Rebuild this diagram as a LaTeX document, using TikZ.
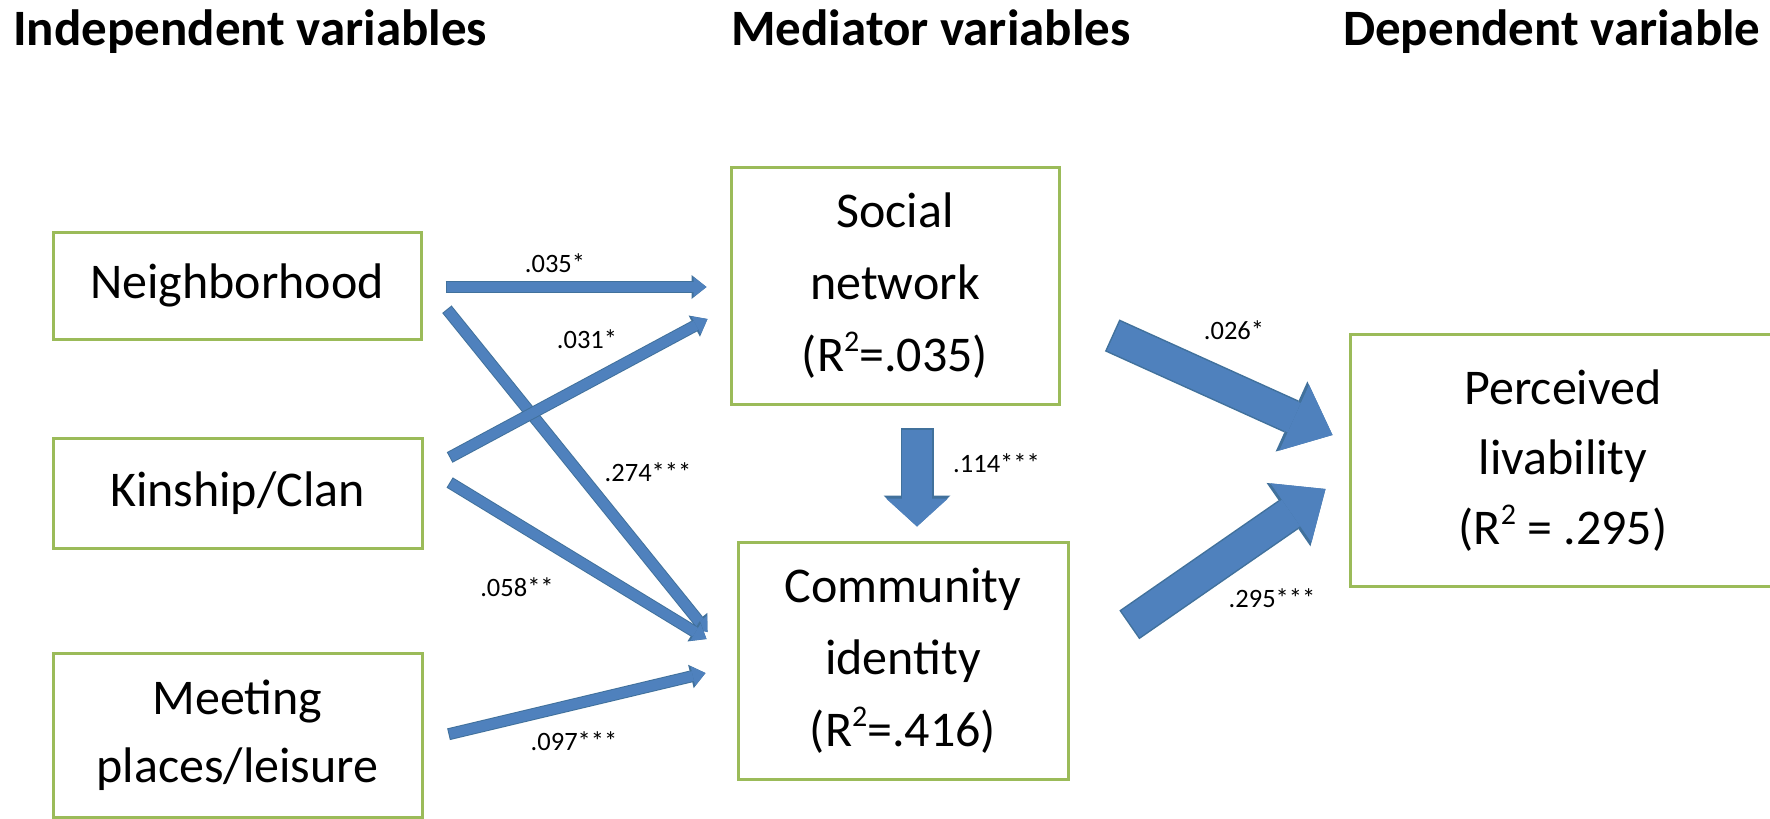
\documentclass[tikz,border=0pt]{standalone}
\usepackage{fontspec}
\setmainfont{Carlito}
\usetikzlibrary{arrows.meta}
\definecolor{boxgreen}{HTML}{9BBB59}
\definecolor{arrfill}{HTML}{4F81BD}
\definecolor{arrline}{HTML}{41719C}
\newcommand{\rsq}{R\raisebox{0.4em}{\fontsize{30}{30}\selectfont 2}}
\begin{document}
\begin{tikzpicture}[x=1pt,y=-1pt,
  vbox/.style={draw=boxgreen, line width=3pt, inner sep=0pt, align=center, font=\fontsize{50}{72}\selectfont},
  boxline/.style={draw=boxgreen, line width=3pt},
  lbl/.style={font=\fontsize{26.5}{30}\selectfont, inner sep=0pt},
  ttl/.style={font=\bfseries\fontsize{51}{60}\selectfont, anchor=base west, inner sep=0pt},
  thinarr/.style={line width=10pt, arrfill, -{Triangle[width=20pt,length=13pt,line width=0pt]},
     preaction={draw=arrline, line width=12pt, -{Triangle[width=24pt,length=15pt,line width=0pt]}, shorten <=-1pt}},
  blockarr/.style={line width=30pt, arrfill, -{Triangle[width=62pt,length=28pt,line width=0pt]},
     preaction={draw=arrline, line width=33pt, -{Triangle[width=67pt,length=31pt,line width=0pt]}, shorten <=-1.5pt}},
  bigarr/.style={line width=32pt, arrfill, -{Triangle[width=72pt,length=42pt,line width=0pt]},
     preaction={draw=arrline, line width=35pt, -{Triangle[width=77pt,length=45pt,line width=0pt]}, shorten <=-1.5pt}},
]
\useasboundingbox (0,0) rectangle (1770,819);

\node[ttl] (t1) at (13,45) {Independent variables};
\node[ttl] (t2) at (731,45) {Mediator variables};
\node[ttl] (t3) at (1343,45) {Dependent variable};

\node[vbox, minimum width=368pt, minimum height=107pt] (nb) at (237,285.5) {Neighborhood};
\node[vbox, minimum width=369pt, minimum height=110pt] (kc) at (237.5,493) {Kinship/Clan};
\node[vbox, minimum width=369pt, minimum height=164pt, font=\fontsize{50}{68}\selectfont] (mp) at (237.5,735) {Meeting\\places/leisure};
\node[vbox, minimum width=328pt, minimum height=237pt] (sn) at (895,285.5) {Social\\network\\(\rsq=.035)};
\node[vbox, minimum width=330pt, minimum height=237pt] (ci) at (903,660.5) {Community\\identity\\(\rsq=.416)};
\node[vbox, draw=none, minimum width=422pt, minimum height=249pt, font=\fontsize{50}{70}\selectfont] (pl) at (1563,460.5) {Perceived\\livability\\(\rsq{} = .295)};
\draw[boxline] ([xshift=60pt]pl.north east) -- (pl.north west) -- (pl.south west) -- ([xshift=60pt]pl.south east);

\node[lbl] (l1) at (555,263) {.035*};
\node[lbl] (l2) at (648,472) {.274***};
\node[lbl] (l3) at (587,339) {.031*};
\node[lbl] (l4) at (517,587) {.058**};
\node[lbl] (l5) at (574,741) {.097***};
\node[lbl, anchor=west] (l6) at (953,463) {.114***};
\node[lbl] (l7) at (1234,330) {.026*};
\node[lbl] (l8) at (1272,598) {.295***};

\draw[thinarr] ([shift={(24,1.5)}]nb.east) -- ([shift={(-23,1.5)}]sn.west);
\draw[thinarr] ([shift={(25,24.5)}]nb.east) -- ([shift={(-29,-28.5)}]ci.west);
\draw[thinarr] ([shift={(27,-36)}]kc.east) -- ([shift={(-22,33.5)}]sn.west);
\draw[thinarr] ([shift={(27,-10)}]kc.east) -- ([shift={(-30,-21.5)}]ci.west);
\draw[thinarr] ([shift={(26,-1)}]mp.east) -- ([shift={(-31,12.5)}]ci.west);
\draw[blockarr] ([shift={(22,24)}]sn.south) -- ([shift={(14,-14)}]ci.north);
\draw[bigarr] ([shift={(53,50.5)}]sn.east) -- ([shift={(-18,-25.5)}]pl.west);
\draw[bigarr] ([shift={(61,-36.5)}]ci.east) -- ([shift={(-25,28.5)}]pl.west);
\end{tikzpicture}
\end{document}
